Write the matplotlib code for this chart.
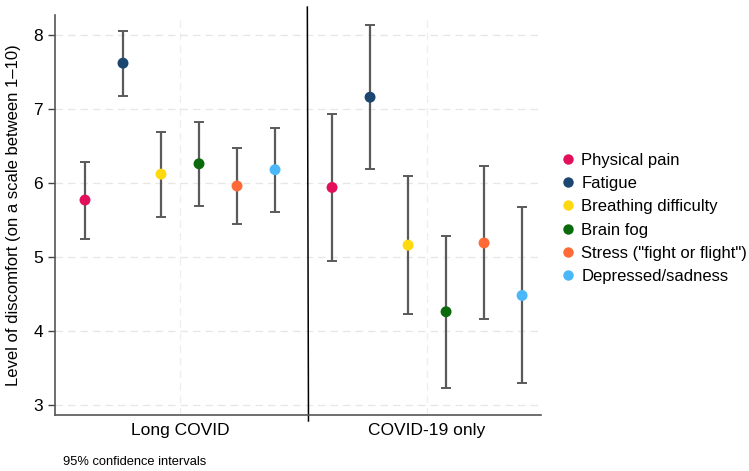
import matplotlib

matplotlib.use("Agg")

import matplotlib.pyplot as plt
import numpy as np
from matplotlib.lines import Line2D

plt.rcParams["font.family"] = ["Liberation Sans", "DejaVu Sans"]

groups = ["Long COVID", "COVID-19 only"]
symptoms = [
    "Physical pain",
    "Fatigue",
    "Breathing difficulty",
    "Brain fog",
    'Stress ("fight or flight")',
    "Depressed/sadness",
]
colors = ["#E2105A", "#1A4670", "#FFD90F", "#0B6A0B", "#FF6A36", "#4AB8F8"]

long_mean = [5.77, 7.62, 6.12, 6.26, 5.96, 6.18]
long_lo = [5.25, 7.18, 5.54, 5.69, 5.45, 5.61]
long_hi = [6.29, 8.05, 6.69, 6.83, 6.48, 6.75]

only_mean = [5.94, 7.16, 5.16, 4.26, 5.19, 4.48]
only_lo = [4.95, 6.19, 4.23, 3.23, 4.16, 3.30]
only_hi = [6.93, 8.14, 6.10, 5.28, 6.23, 5.67]

fig = plt.figure(figsize=(7.49, 4.71), dpi=100)
ax = fig.add_axes([0.0734, 0.119, 0.649, 0.849])

series = [(long_mean, long_lo, long_hi), (only_mean, only_lo, only_hi)]
offsets = [0.0, 6.5]
for (mean, lo, hi), off in zip(series, offsets):
    xs = np.arange(len(mean)) + off
    mean = np.array(mean)
    err = np.vstack([mean - np.array(lo), np.array(hi) - mean])
    ax.errorbar(xs, mean, yerr=err, fmt="none", ecolor="#5a5a5a",
                elinewidth=1.6, capsize=3.5, capthick=1.4, zorder=2)
    ax.scatter(xs, mean, c=colors, s=62, zorder=3, linewidths=0)

centers = [2.5, 9.0]
ax.set_xlim(-0.79, 12.0)
ax.set_ylim(2.865, 8.27)
ax.set_xticks(centers)
ax.set_xticklabels(groups, fontsize=12.5)
ax.tick_params(axis="x", length=0, pad=6)
ax.set_yticks(range(3, 9))
ax.tick_params(axis="y", labelsize=12.5, length=5, width=1, color="#444444")
ax.set_ylabel("Level of discomfort (on a scale between 1\u201310)", fontsize=12, labelpad=9)

ax.grid(True, axis="y", color="#e6e6e6", linestyle=(0, (6, 4)), linewidth=0.9)
for c in centers:
    ax.axvline(c, color="#eeeeee", linestyle=(0, (6, 4)), linewidth=0.9, zorder=0)
ax.set_axisbelow(True)

for side in ["top", "right"]:
    ax.spines[side].set_visible(False)
for side in ["left", "bottom"]:
    ax.spines[side].set_color("#555555")
    ax.spines[side].set_linewidth(1.2)

ax.plot([5.85, 5.88], [1.02, -0.015], color="black", linewidth=1.1,
        transform=ax.get_xaxis_transform(), clip_on=False)

handles = [Line2D([], [], marker="o", linestyle="none", markersize=7.5,
                  markerfacecolor=c, markeredgewidth=0) for c in colors]
fig.legend(handles, symptoms, loc="upper left", bbox_to_anchor=(0.725, 0.708),
           frameon=False, fontsize=12, handletextpad=0.2, labelspacing=0.5,
           handlelength=1.2)

fig.text(0.084, 0.012, "95% confidence intervals", fontsize=9.3)

fig.savefig("out.png", dpi=100)
